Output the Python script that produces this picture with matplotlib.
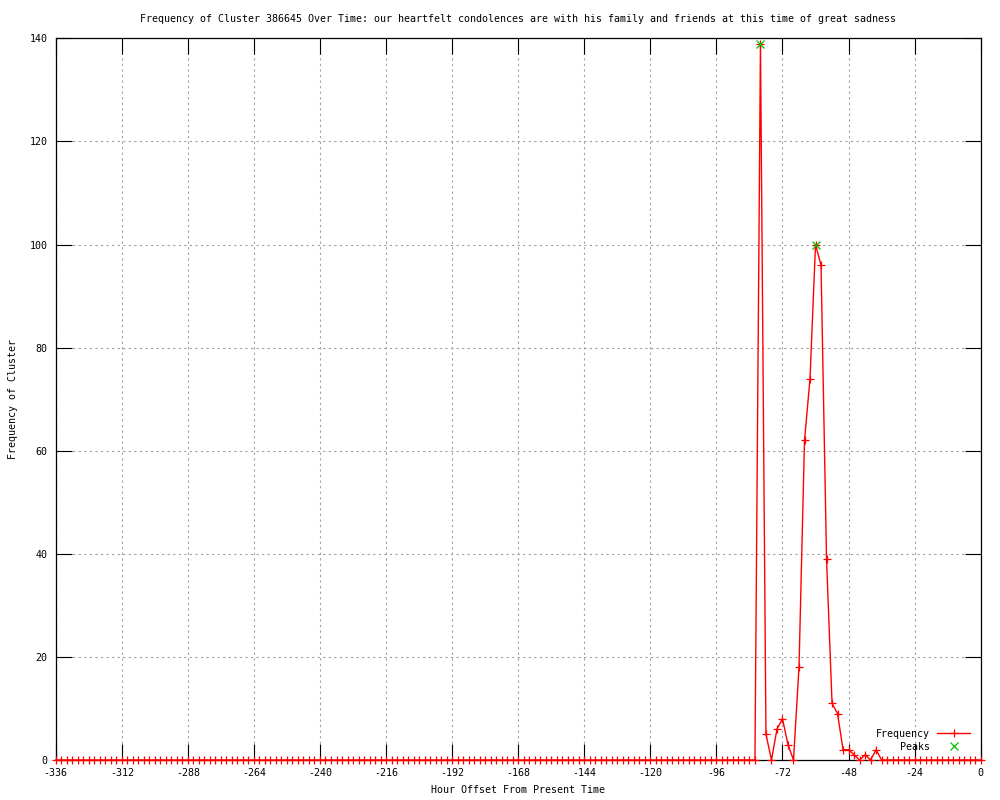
import numpy as np
import matplotlib
matplotlib.use("Agg")
import matplotlib.pyplot as plt

# hora relativa (cada 2 horas) y frecuencia del cluster
hours = np.arange(-336, 2, 2)
freq = [
    0, 0, 0, 0, 0, 0, 0, 0, 0, 0, 0, 0, 0, 0, 0, 0, 0, 0, 0, 0, 0, 0, 0, 0, 0, 0, 0, 0, 0, 0, 0, 0,
    0, 0, 0, 0, 0, 0, 0, 0, 0, 0, 0, 0, 0, 0, 0, 0, 0, 0, 0, 0, 0, 0, 0, 0, 0, 0, 0, 0, 0, 0, 0, 0,
    0, 0, 0, 0, 0, 0, 0, 0, 0, 0, 0, 0, 0, 0, 0, 0, 0, 0, 0, 0, 0, 0, 0, 0, 0, 0, 0, 0, 0, 0, 0, 0,
    0, 0, 0, 0, 0, 0, 0, 0, 0, 0, 0, 0, 0, 0, 0, 0, 0, 0, 0, 0, 0, 0, 0, 0, 0, 0, 0, 0, 0, 0, 0, 0,
    139, 5, 0, 6, 8, 3, 0, 18, 62, 74, 100, 96, 39, 11, 9, 2, 2, 1, 0, 1, 0, 2,
    0, 0, 0, 0, 0, 0, 0, 0, 0, 0, 0, 0, 0, 0, 0, 0, 0, 0, 0,
]
peak_hours = [-80, -60]
peak_vals = [139, 100]

xticks = list(range(-336, 1, 24))
yticks = list(range(0, 141, 20))

plt.rcParams["font.family"] = ["DejaVu Sans Mono"]
plt.rcParams["font.size"] = 7.2
plt.rcParams["axes.unicode_minus"] = False

fig = plt.figure(figsize=(10, 8), dpi=100)
ax = fig.add_axes([0.0557, 0.05, 0.925, 0.902])

ax.plot(hours, freq, color="#ff0000", lw=1, marker="+", ms=5.5, mew=0.9,
        label="Frequency", clip_on=False, zorder=3)
ax.plot(peak_hours, peak_vals, ls="none", color="#00c000", marker="x", ms=5.5,
        mew=0.9, label="Peaks", zorder=4)

ax.set_xlim(-336, 0)
ax.set_ylim(0, 140)
ax.set_xticks(xticks)
ax.set_yticks(yticks)
ax.tick_params(direction="in", length=11.5, width=0.8, top=True, right=True, pad=6)
ax.grid(True, color="#a0a0a0", ls=(0, (2, 3)), lw=0.8)
for s in ax.spines.values():
    s.set_linewidth(0.9)

ax.set_title("Frequency of Cluster 386645 Over Time: our heartfelt condolences are with his family and friends at this time of great sadness",
             pad=12, fontsize=7.2)
ax.set_xlabel("Hour Offset From Present Time", labelpad=5)
ax.set_ylabel("Frequency of Cluster", labelpad=8)

ax.legend(loc="lower right", bbox_to_anchor=(0.975, 0.054), bbox_transform=fig.transFigure,
          frameon=False, markerfirst=False, numpoints=1, handlelength=3.3,
          labelspacing=0.32, borderpad=0, handletextpad=0.7)

fig.savefig("out.png", dpi=100)
